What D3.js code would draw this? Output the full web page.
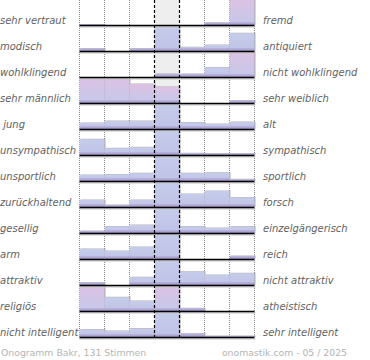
<!DOCTYPE html>
<html><head><meta charset="utf-8">
<script src="https://cdn.jsdelivr.net/npm/d3@7"></script>
<style>body{margin:0;background:#fff}svg{display:block}</style>
</head><body>
<svg id="c" width="370" height="360"></svg>
<script>
const leftLabels = ["sehr vertraut","modisch","wohlklingend","sehr männlich"," jung","unsympathisch","unsportlich","zurückhaltend","gesellig","arm","attraktiv","religiös","nicht intelligent"];
const rightLabels = ["fremd","antiquiert","nicht wohlklingend","sehr weiblich","alt","sympathisch","sportlich","forsch","einzelgängerisch","reich","nicht attraktiv","atheistisch","sehr intelligent"];
const scaleSteps = [0,1,2,3,4,5,6];
const values = [
  [2,0,0,0,0,9,100],
  [10,0,10,100,15,24,71],
  [0,0,0,12,12,38,100],
  [100,100,76,64,0,0,10],
  [24,32,32,100,26,20,28],
  [63,27,31,100,7,6,6],
  [24,26,31,100,31,33,7],
  [28,8,28,100,52,64,38],
  [8,26,32,100,26,20,26],
  [40,32,48,100,0,0,12],
  [10,0,31,100,53,40,47],
  [100,55,40,100,11,0,0],
  [30,24,34,100,14,4,4]
];
const pinkCells = [[0,6],[2,6],[3,0],[3,1],[3,2],[3,3],[11,0],[11,3]];
const footerLeft = "Onogramm Bakr, 131 Stimmen";
const footerRight = "onomastik.com - 05 / 2025";

const svg = d3.select("#c");
const x = d3.scaleBand().domain(scaleSteps).range([79.5, 254.5]).padding(0);
const row = d3.scaleBand().domain(d3.range(leftLabels.length)).range([-1, 337]).padding(0);
const h = d3.scaleLinear().domain([0,100]).range([0,25]);
const bw = x.bandwidth();
const xEnd = x.range()[1];
const base = i => row(i) + row.bandwidth();
const pinkSet = new Set(pinkCells.map(d => d[0] + "-" + d[1]));

const defs = svg.append("defs");
const gb = defs.append("linearGradient").attr("id","gBlue").attr("x1",0).attr("y1",0).attr("x2",0).attr("y2",1);
gb.append("stop").attr("offset","0%").attr("stop-color","#c6cceb");
gb.append("stop").attr("offset","100%").attr("stop-color","#bfc3e6");
const gp = defs.append("linearGradient").attr("id","gPink").attr("x1",0).attr("y1",0).attr("x2",0).attr("y2",1);
gp.append("stop").attr("offset","0%").attr("stop-color","#dcc2e3");
gp.append("stop").attr("offset","100%").attr("stop-color","#c4c8ea");
const gs = defs.append("linearGradient").attr("id","gStrip").attr("x1",0).attr("y1",0).attr("x2",0).attr("y2",1);
gs.append("stop").attr("offset","0%").attr("stop-color","#a898cc").attr("stop-opacity",0.3);
gs.append("stop").attr("offset","100%").attr("stop-color","#a090c6").attr("stop-opacity",1);

// middle column background
svg.append("rect").attr("x", x(3)).attr("y", 0).attr("width", bw).attr("height", base(12))
  .attr("fill", "#eeeeee");

// dotted grid
const bounds = scaleSteps.map(s => x(s)).concat([xEnd]);
svg.selectAll("line.dot").data(bounds.filter((b,i) => i !== 3 && i !== 4)).join("line")
  .attr("x1", d => d).attr("x2", d => d).attr("y1", 0).attr("y2", base(12) + 1)
  .attr("stroke", "#8a8a8a").attr("stroke-width", 1).attr("stroke-dasharray", "1,1");

// bars
const cells = [];
values.forEach((r, i) => r.forEach((v, j) => cells.push({i, j, v})));
const g = svg.append("g");
const nz = cells.filter(d => d.v > 0);
g.selectAll("rect.sh").data(nz).join("rect")
  .attr("x", d => x(d.j) + 1).attr("y", d => base(d.i) - h(d.v) - 0.5)
  .attr("width", bw).attr("height", d => h(d.v) + 0.5)
  .attr("fill", "#9a9a9a").attr("opacity", 0.75);
g.selectAll("rect.bar").data(nz).join("rect")
  .attr("x", d => x(d.j)).attr("y", d => base(d.i) - h(d.v))
  .attr("width", bw).attr("height", d => h(d.v))
  .attr("fill", d => pinkSet.has(d.i + "-" + d.j) ? "url(#gPink)" : "url(#gBlue)");
g.selectAll("rect.strip").data(nz).join("rect")
  .attr("x", d => x(d.j)).attr("y", d => base(d.i) - Math.min(h(d.v), 3))
  .attr("width", bw).attr("height", d => Math.min(h(d.v), 3))
  .attr("fill", "url(#gStrip)");

// baselines
const rows = d3.range(leftLabels.length);
svg.selectAll("line.sh").data(rows).join("line")
  .attr("x1", x(0)).attr("x2", xEnd + 1).attr("y1", d => base(d) + 1.8).attr("y2", d => base(d) + 1.8)
  .attr("stroke", "#c4c4c4").attr("stroke-width", 1.2);
svg.selectAll("line.base").data(rows).join("line")
  .attr("x1", x(0)).attr("x2", xEnd).attr("y1", d => base(d) + 0.5).attr("y2", d => base(d) + 0.5)
  .attr("stroke", "#000").attr("stroke-width", 1.4);

// dashed middle lines
svg.selectAll("line.dash").data([x(3), x(4)]).join("line")
  .attr("x1", d => d).attr("x2", d => d).attr("y1", 0).attr("y2", base(12) + 1)
  .attr("stroke", "#000").attr("stroke-width", 1.2).attr("stroke-dasharray", "3,2");

// labels
const font = "'DejaVu Sans', Verdana, sans-serif";
svg.selectAll("text.l").data(leftLabels).join("text")
  .attr("x", 0).attr("y", (d,i) => base(i) - 1.3)
  .attr("font-family", font).attr("font-size", 10).attr("font-style", "italic")
  .attr("fill", "#626262").style("white-space", "pre").text(d => d);
svg.selectAll("text.r").data(rightLabels).join("text")
  .attr("x", 263).attr("y", (d,i) => base(i) - 1.3)
  .attr("font-family", font).attr("font-size", 10).attr("font-style", "italic")
  .attr("fill", "#626262").text(d => d);

svg.append("text").attr("x", 1).attr("y", 356).attr("font-family", font).attr("font-size", 9.3)
  .attr("fill", "#b4b4b4").text(footerLeft);
svg.append("text").attr("x", 347).attr("y", 356).attr("text-anchor", "end").attr("font-family", font).attr("font-size", 9.3)
  .attr("fill", "#b4b4b4").text(footerRight);
</script>
</body></html>
